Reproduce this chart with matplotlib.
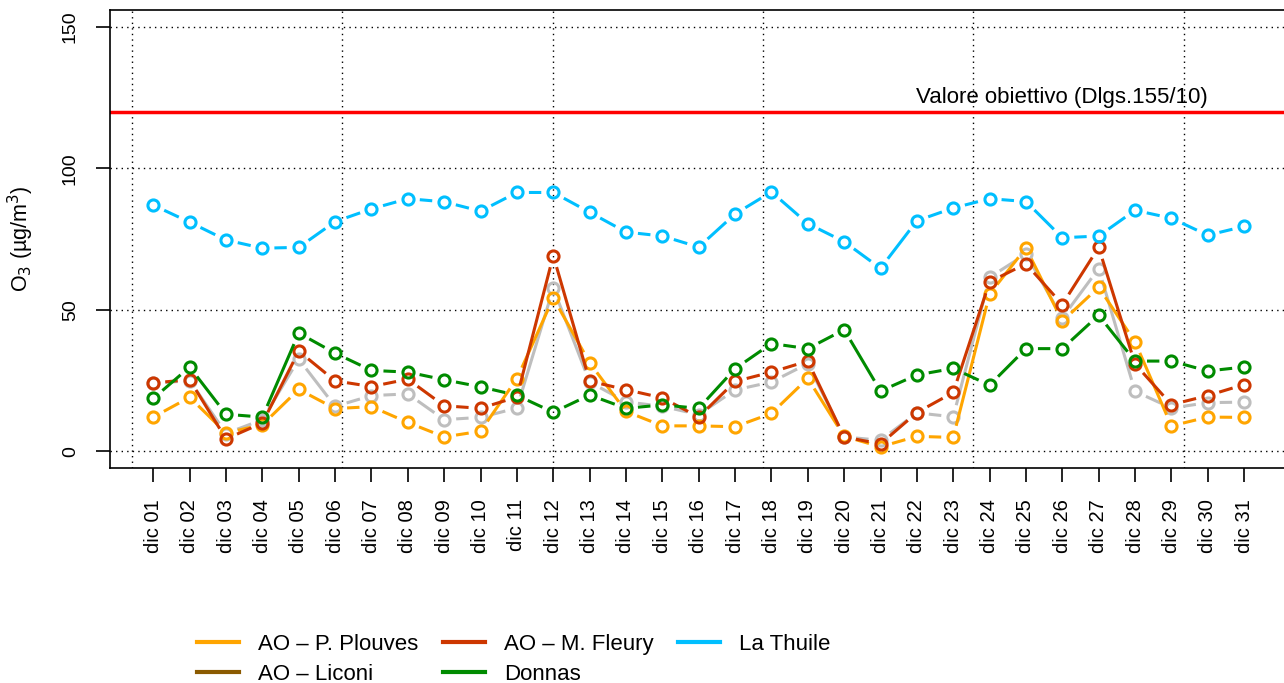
import numpy as np
import matplotlib
matplotlib.use("Agg")
import matplotlib.pyplot as plt
from matplotlib.lines import Line2D

plt.rcParams['font.family'] = ['Liberation Sans', 'DejaVu Sans']

# giorni di dicembre
giorni = np.arange(1, 32)
etichette = ["dic %02d" % g for g in giorni]

# O3 medie giornaliere (ug/m3)
plouves = [12.1, 19.1, 6.5, 9.4, 21.9, 15.1, 15.8, 10.2, 5.1, 7.1,
           25.7, 54.2, 31.3, 14.1, 9.0, 9.0, 8.7, 13.4, 25.8, 5.3,
           1.6, 5.3, 4.9, 55.6, 71.9, 46.0, 58.0, 38.7, 9.0, 12.1, 12.0]
liconi = [24.0, 25.0, 6.3, 11.2, 32.6, 15.9, 19.7, 20.3, 11.2, 12.0,
          15.3, 57.7, 24.5, 17.5, 15.9, 13.0, 21.7, 24.5, 31.0, 5.1,
          3.9, 13.6, 12.2, 61.5, 69.7, 47.2, 64.6, 21.2, 15.3, 17.2, 17.4]
fleury = [24.2, 25.3, 4.4, 10.0, 35.4, 24.9, 22.9, 25.5, 16.1, 15.2,
          19.2, 69.2, 24.8, 21.8, 18.9, 12.1, 24.7, 28.0, 31.9, 5.1,
          2.6, 13.7, 20.8, 59.9, 66.3, 51.9, 72.1, 30.9, 16.5, 19.7, 23.6]
donnas = [18.7, 29.8, 13.1, 12.1, 41.8, 34.7, 28.6, 28.0, 25.3, 22.8,
          19.8, 13.8, 19.9, 15.2, 16.4, 15.2, 29.2, 38.1, 36.3, 43.0,
          21.3, 27.0, 29.3, 23.4, 36.3, 36.3, 48.1, 31.9, 31.9, 28.4, 29.8]
thuile = [87.0, 81.0, 74.7, 71.8, 72.1, 81.2, 85.7, 89.3, 88.2, 84.9,
          91.5, 91.5, 84.5, 77.5, 76.1, 72.2, 83.9, 91.7, 80.5, 74.1,
          64.7, 81.5, 86.0, 89.3, 88.3, 75.5, 76.1, 85.2, 82.4, 76.4, 79.5]
obiettivo = 120

W, H, DPI = 1284, 683, 100
fig = plt.figure(figsize=(W / DPI, H / DPI), dpi=DPI)
ax = fig.add_axes([109.5 / W, (H - 468.3) / H, (1300 - 109.5) / W, (468.3 - 10) / H])
ax.set_xlim(-0.205, 1 + (1300 - 153.3) / 36.36)
ax.set_ylim(-6, 156)

# griglia tratteggiata (stile R)
for v in [0.41, 6.19, 11.98, 17.77, 23.55, 29.34]:
    ax.axvline(v, color='black', lw=1, ls=(0, (1, 3)), zorder=1)
for h in [0, 50, 100, 150]:
    ax.axhline(h, color='black', lw=1, ls=(0, (1, 3)), zorder=1)

ax.axhline(obiettivo, color='red', lw=2.5, zorder=2)
ax.text(26, obiettivo + 1.2, "Valore obiettivo (Dlgs.155/10)", ha='center', va='bottom',
        fontsize=16)


def tipo_b(y, col, gap=12.0):
    # linee interrotte attorno ai punti, come type="b" di R
    pts = ax.transData.transform(np.column_stack([giorni, y]))
    xs, ys = [], []
    for p0, p1 in zip(pts[:-1], pts[1:]):
        d = p1 - p0
        L = np.hypot(*d)
        if L <= 2 * gap:
            continue
        u = d / L
        a = ax.transData.inverted().transform(p0 + u * gap)
        b = ax.transData.inverted().transform(p1 - u * gap)
        xs += [a[0], b[0], np.nan]
        ys += [a[1], b[1], np.nan]
    ax.plot(xs, ys, color=col, lw=2.2, solid_capstyle='butt', zorder=3)
    ax.plot(giorni, y, ls='none', marker='o', ms=8, mfc='none', mec=col, mew=2.2, zorder=3)


tipo_b(liconi, '#BEBEBE')
tipo_b(plouves, '#FFA500')
tipo_b(fleury, '#CD3700')
tipo_b(donnas, '#008B00')
tipo_b(thuile, '#00BFFF')

ax.set_xticks(giorni)
ax.set_xticklabels(etichette, rotation=90, fontsize=14.5)
ax.set_yticks([0, 50, 100, 150])
ax.set_yticklabels(['0', '50', '100', '150'], rotation=90, va='center', fontsize=14)
ax.tick_params(axis='x', length=10, width=1.2, pad=12)
ax.tick_params(axis='y', length=10, width=1.2, pad=12)
for s in ax.spines.values():
    s.set_linewidth(1.2)
ax.set_ylabel('O$_3$ (µg/m$^3$)', fontsize=15.5)
ax.yaxis.set_label_coords(-(109.5 - 36) / (1300 - 109.5), 0.5)

# legenda (ordine per righe come in R)
nomi = ["AO – P. Plouves", "AO – Liconi", "AO – M. Fleury", "Donnas", "La Thuile"]
colori = ['#FFA500', '#8B5A00', '#CD3700', '#008B00', '#00BFFF']
maniglie = [Line2D([], [], color=c, lw=3) for c in colori]
fig.legend(maniglie, nomi, ncol=3, frameon=False, fontsize=16,
           loc='upper left', bbox_to_anchor=(197 / W, (H - 634) / H),
           handlelength=1.9, handletextpad=0.85, columnspacing=1.1,
           labelspacing=0.4, borderaxespad=0, borderpad=0)

fig.savefig('out.png', dpi=DPI)
